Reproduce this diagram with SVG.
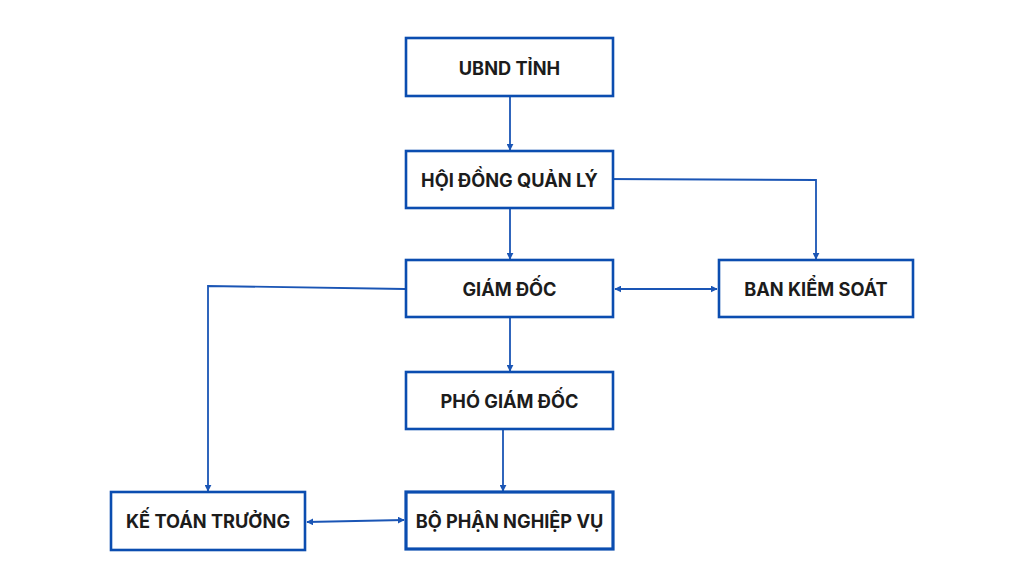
<svg xmlns="http://www.w3.org/2000/svg" width="1024" height="580" viewBox="0 0 1024 580">
<style>
.box{fill:#fff;stroke:#0b4db0;stroke-width:2.6}
.t{font-family:Inter,"Liberation Sans",sans-serif;font-weight:700;font-size:18.2px;fill:#1c1c1c;text-anchor:middle;dominant-baseline:central}
.c{fill:none;stroke:#1a55b5;stroke-width:1.8}
</style>
<defs>
<marker id="ah" viewBox="0 0 10 10" refX="9" refY="5" markerWidth="7" markerHeight="7" orient="auto-start-reverse" markerUnits="userSpaceOnUse">
<path d="M0,0 L10,5 L0,10 z" fill="#1a55b5"/>
</marker>
</defs>
<rect width="1024" height="580" fill="#fff"/>
<g id="connectors">
<path class="c" d="M510,97 V150" marker-end="url(#ah)"/>
<path class="c" d="M603,179 L816,180 V259" marker-end="url(#ah)"/>
<path class="c" d="M510,209 V259" marker-end="url(#ah)"/>
<path class="c" d="M615,289 H717" marker-start="url(#ah)" marker-end="url(#ah)"/>
<path class="c" d="M405,289 L208,286 V491" marker-end="url(#ah)"/>
<path class="c" d="M510,318 V371" marker-end="url(#ah)"/>
<path class="c" d="M503,430 V491" marker-end="url(#ah)"/>
<path class="c" d="M307,522 L404,520" marker-start="url(#ah)" marker-end="url(#ah)"/>
</g>
<g id="ubnd"><rect class="box" x="406" y="38" width="207" height="58"/><text class="t" x="509.5" y="68">UBND TỈNH</text></g>
<g id="hdql"><rect class="box" x="406" y="151" width="207" height="57"/><text class="t" x="509.5" y="180">HỘI ĐỒNG QUẢN LÝ</text></g>
<g id="gd"><rect class="box" x="406" y="260" width="207" height="57"/><text class="t" x="509.5" y="289">GIÁM ĐỐC</text></g>
<g id="bks"><rect class="box" x="719" y="260" width="194" height="57"/><text class="t" x="816" y="289">BAN KIỂM SOÁT</text></g>
<g id="pgd"><rect class="box" x="406" y="372" width="207" height="57"/><text class="t" x="509.5" y="401">PHÓ GIÁM ĐỐC</text></g>
<g id="ktt"><rect class="box" x="111" y="492" width="194" height="58"/><text class="t" x="208" y="521">KẾ TOÁN TRƯỞNG</text></g>
<g id="bpnv"><rect class="box" x="406" y="492" width="207" height="57" style="stroke-width:3.2"/><text class="t" x="509.5" y="521">BỘ PHẬN NGHIỆP VỤ</text></g>
</svg>
